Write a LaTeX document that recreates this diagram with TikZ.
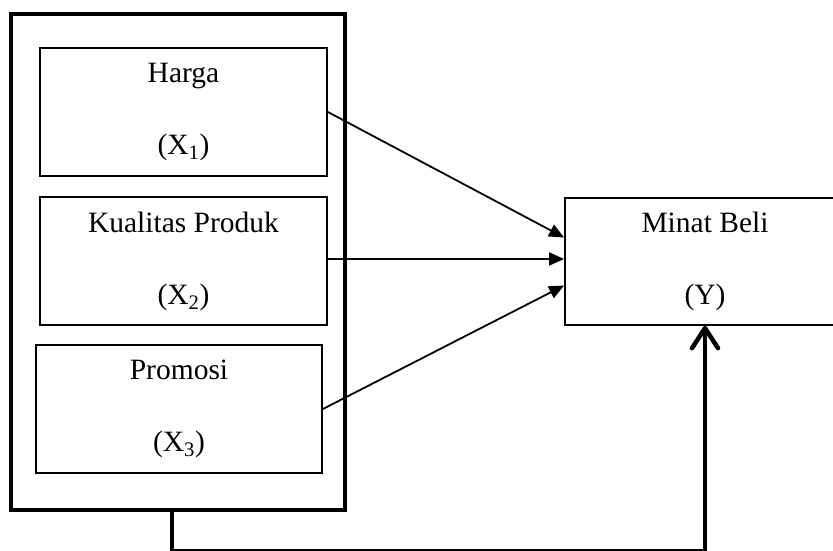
\documentclass[tikz,border=0pt]{standalone}
\usepackage{fontspec}
\setmainfont{Liberation Serif}
\usepackage{tikz}
\usetikzlibrary{positioning,calc,arrows.meta}

\tikzset{
  varbox/.style={draw, line width=1.8pt, rectangle, align=center,
    minimum width=287pt, minimum height=128pt, inner sep=0pt,
    font=\fontsize{29.5}{72}\selectfont},
  pathline/.style={line width=1.8pt, -{Triangle[length=15pt,width=13pt]}}
}

\begin{document}
\begin{tikzpicture}[x=1pt, y=-1pt]
  \useasboundingbox (0,0) rectangle (833,551);

  % Group box round the three variables
  \node[draw, line width=4.5pt, minimum width=334pt, minimum height=496pt, inner sep=0pt] (outer) at (178,262) {};

  % Independent variables
  \node[varbox] (harga) at (183.5,112) {Harga\\(X\textsubscript{1})};
  \node[varbox] (produk) at (183.5,261) {Kualitas Produk\\(X\textsubscript{2})};
  \node[varbox, minimum width=286pt] (promosi) at (179,409) {Promosi\\(X\textsubscript{3})};

  % Dependent variable
  \node[varbox, minimum width=280pt, minimum height=127pt] (minat) at (705,261.5) {Minat Beli\\(Y)};

  % Partial paths
  \draw[pathline] (harga.east) -- ($(minat.west)+(0,-24)$);
  \draw[pathline] (produk.east |- 0,259) -- (minat.west |- 0,259);
  \draw[pathline] (promosi.east) -- ($(minat.west)+(0,24)$);

  % Simultaneous path
  \coordinate (stem) at ($(outer.south)+(-6,0)$);
  \draw[line width=4.5pt, -{Straight Barb[length=20pt,width=26pt,round]}]
    (stem) -- ++(0,39) -| (minat.south);
\end{tikzpicture}
\end{document}
